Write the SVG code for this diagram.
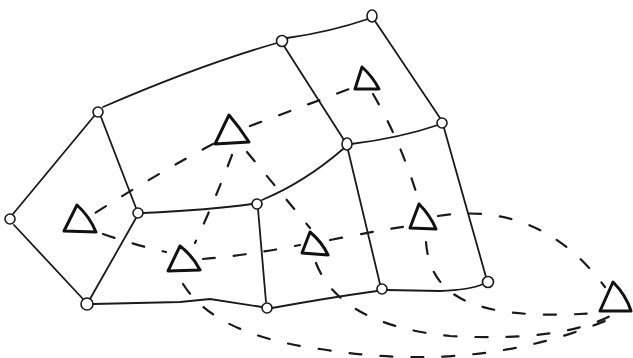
<svg xmlns="http://www.w3.org/2000/svg" width="633" height="358" viewBox="0 0 633 358">
<style>
.e{fill:none;stroke:#1a1a1a;stroke-width:1.8;stroke-linecap:round}
.d{fill:none;stroke:#1a1a1a;stroke-width:2.2;stroke-linecap:round;stroke-dasharray:12 19}
.v{fill:#fff;stroke:#1a1a1a;stroke-width:1.6}
.t{fill:none;stroke:#111;stroke-width:3;stroke-linejoin:round}
</style>
<rect width="633" height="358" fill="#fff"/>
<g id="connectors">
<g id="primal-edges">
<path class="e" d="M287,38 Q330,32 368,19"/>
<path class="e" d="M375,21 L440,118"/>
<path class="e" d="M103,107 Q200,65 277,43"/>
<path class="e" d="M284,46 L344,140"/>
<path class="e" d="M351,144 Q400,138 438,125"/>
<path class="e" d="M95,115 L13,214"/>
<path class="e" d="M14,225 L83,299"/>
<path class="e" d="M101,117 L136,208"/>
<path class="e" d="M136,218 L90,299"/>
<path class="e" d="M143,213 Q210,210 252,204"/>
<path class="e" d="M262,200 Q305,182 343,149"/>
<path class="e" d="M258,209 L266,302"/>
<path class="e" d="M93,304 L180,302 L210,299 L262,307"/>
<path class="e" d="M272,308 Q327,298 377,291"/>
<path class="e" d="M348,150 L380,284"/>
<path class="e" d="M444,128 L486,277"/>
<path class="e" d="M387,290 L440,291 Q470,290 483,284"/>
</g>
<g id="dual-edges">
<path class="d" d="M250,126 L352,88"/>
<path class="d" d="M213,144 Q160,172 95,213"/>
<path class="d" d="M232,155 Q215,200 195,243"/>
<path class="d" d="M247,152 L310,228"/>
<path class="d" d="M373,94 Q400,140 418,198"/>
<path class="d" d="M103,234 Q135,245 166,252"/>
<path class="d" d="M203,259 Q250,255 300,245"/>
<path class="d" d="M330,240 Q370,232 408,226"/>
<path class="d" d="M438,216 Q540,200 605,287"/>
<path class="d" d="M426,242 C430,295 470,322 598,313"/>
<path class="d" d="M316,263 Q340,325 450,336 Q560,342 610,316"/>
<path class="d" d="M183,284 Q215,335 320,349 Q480,375 612,318"/>
</g>
</g>
<g id="n1"><ellipse class="v" cx="372" cy="16" rx="5" ry="6"/></g>
<g id="n2"><circle class="v" cx="282" cy="41" r="5.5"/></g>
<g id="n3"><circle class="v" cx="98" cy="112" r="5"/></g>
<g id="n4"><circle class="v" cx="442" cy="123" r="5"/></g>
<g id="n5"><ellipse class="v" cx="347" cy="144" rx="5" ry="6"/></g>
<g id="n6"><circle class="v" cx="10" cy="219" r="5"/></g>
<g id="n7"><circle class="v" cx="138" cy="213" r="5"/></g>
<g id="n8"><circle class="v" cx="257" cy="204" r="5"/></g>
<g id="n9"><circle class="v" cx="87" cy="304" r="6"/></g>
<g id="n10"><circle class="v" cx="267" cy="308" r="5"/></g>
<g id="n11"><circle class="v" cx="382" cy="289" r="5"/></g>
<g id="n12"><circle class="v" cx="488" cy="282" r="5.5"/></g>
<g id="f1"><path class="t" d="M229,115 Q240,128 249,142 L215,144 Z"/></g>
<g id="f2"><path class="t" d="M362,67 Q373,77 379,89 L355,89 Z"/></g>
<g id="f3"><path class="t" d="M77,205 Q90,217 96,232 L64,231 Z"/></g>
<g id="f4"><path class="t" d="M180,246 Q193,256 200,270 L168,271 Z"/></g>
<g id="f5"><path class="t" d="M310,232 Q322,242 328,255 L302,253 Z"/></g>
<g id="f6"><path class="t" d="M419,204 Q430,215 436,229 L410,228 Z"/></g>
<g id="f7"><path class="t" d="M613,282 Q626,295 631,311 L600,311 Z"/></g>
</svg>
